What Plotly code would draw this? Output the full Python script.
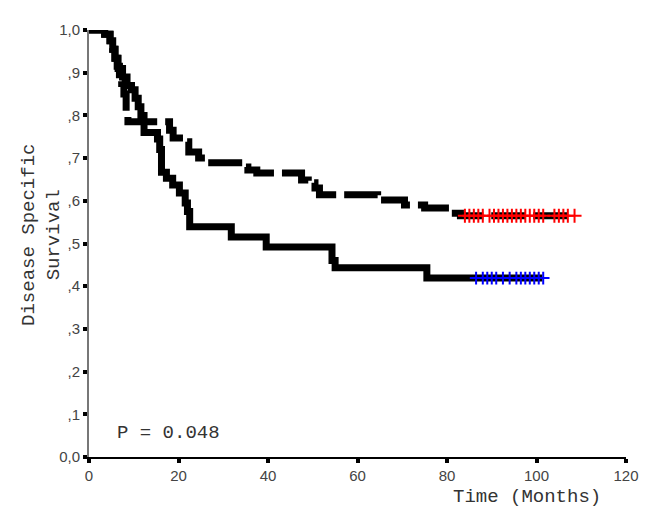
import plotly.graph_objects as go

# Kaplan-Meier step data (months, survival)
upper_t = [0, 3.5, 4.7, 5.3, 5.8, 6.3, 6.8, 7.3, 7.8, 8.3, 8.7, 18, 18.8, 21.5, 22.3,
           24.5, 26.5, 34.5, 35.5, 37.5, 47.5, 49, 50.5, 51.5, 64.5, 70.5, 75, 80.5,
           83, 108.5]
upper_s = [1.0, 0.99, 0.975, 0.955, 0.934, 0.915, 0.895, 0.875, 0.85, 0.81, 0.785,
           0.765, 0.747, 0.738, 0.714, 0.70, 0.689, 0.679, 0.672, 0.665, 0.649, 0.642,
           0.63, 0.614, 0.602, 0.59, 0.583, 0.571, 0.565, 0.565]
upper_cens = [84, 85, 86, 87, 88, 89.5, 90.5, 91.5, 92.5, 93.5, 94.5, 95.5, 96.5,
              97.5, 98.5, 99.5, 100.5, 101.5, 104, 105, 106, 107, 108.5]

lower_t = [0, 3.5, 4.7, 5.3, 5.8, 6.5, 7.5, 8.5, 9.5, 10.3, 11, 11.6, 12.3, 15.3, 15.8,
           16.2, 17.3, 18.7, 20.2, 21.5, 22, 22.5, 31.8, 39.6, 54.3, 55, 75.5, 101.3]
lower_s = [1.0, 0.99, 0.975, 0.955, 0.934, 0.91, 0.89, 0.87, 0.86, 0.84, 0.82, 0.80,
           0.76, 0.745, 0.72, 0.667, 0.653, 0.637, 0.618, 0.595, 0.575, 0.539, 0.515,
           0.492, 0.46, 0.443, 0.419, 0.419]
lower_cens = [86.5, 88, 89, 90, 91, 92.5, 94, 95.5, 96.5, 97.5, 98.5, 99.5, 100.5, 101.5]

y_ticks = [0, 0.1, 0.2, 0.3, 0.4, 0.5, 0.6, 0.7, 0.8, 0.9, 1.0]
y_labels = ["0,0", ",1", ",2", ",3", ",4", ",5", ",6", ",7", ",8", ",9", "1,0"]
x_ticks = [0, 20, 40, 60, 80, 100, 120]

mono = "Liberation Mono, Courier New, monospace"

fig = go.Figure()
fig.add_trace(go.Scatter(x=upper_t, y=upper_s, mode="lines", line_shape="hv",
                         line=dict(color="black", width=7, dash="34px,8px"),
                         cliponaxis=False, showlegend=False))
fig.add_trace(go.Scatter(x=lower_t, y=lower_s, mode="lines", line_shape="hv",
                         line=dict(color="black", width=7),
                         cliponaxis=False, showlegend=False))
fig.add_trace(go.Scatter(x=upper_cens, y=[upper_s[-1]] * len(upper_cens), mode="markers",
                         marker=dict(symbol="cross-thin", size=10,
                                     line=dict(color="red", width=2)),
                         showlegend=False))
fig.add_trace(go.Scatter(x=lower_cens, y=[lower_s[-1]] * len(lower_cens), mode="markers",
                         marker=dict(symbol="cross-thin", size=9,
                                     line=dict(color="blue", width=2)),
                         showlegend=False))

fig.add_annotation(x=5.8, y=0.056, xref="x", yref="y", text="P = 0.048",
                   showarrow=False, xanchor="left", yanchor="middle",
                   font=dict(family=mono, size=19, color="#333"))
fig.add_annotation(x=97.9, y=-0.094, xref="x", yref="paper", text="Time (Months)",
                   showarrow=False, xanchor="center", yanchor="middle",
                   font=dict(family=mono, size=19, color="#333"))
fig.add_annotation(x=-0.0875, y=0.52, xref="paper", yref="paper",
                   text="Disease Specific<br>Survival", textangle=-90,
                   showarrow=False, xanchor="center", yanchor="middle",
                   font=dict(family=mono, size=19, color="#333"))

fig.update_xaxes(range=[0, 120], tickvals=x_ticks, showgrid=False, zeroline=False,
                 showline=True, linecolor="black", linewidth=1.5,
                 ticks="outside", ticklen=4, tickwidth=4, tickcolor="black",
                 tickfont=dict(family="Liberation Sans, Arial", size=15, color="#444"))
fig.update_yaxes(range=[0, 1], tickvals=y_ticks, ticktext=y_labels, showgrid=False,
                 zeroline=False, showline=True, linecolor="#777", linewidth=2,
                 ticks="outside", ticklen=4, tickwidth=4, tickcolor="black",
                 tickfont=dict(family="Liberation Sans, Arial", size=15, color="#444"))

# page body has an 8px margin, so the plot area is shifted back by that much
fig.update_layout(width=654, height=527, margin=dict(l=81, r=36, t=22, b=78),
                  plot_bgcolor="white", paper_bgcolor="white")

fig.write_html("out.html")
